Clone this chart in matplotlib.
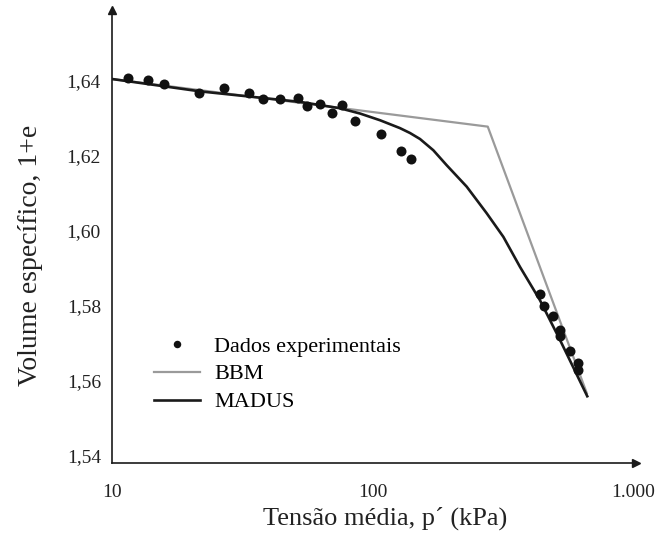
import matplotlib
matplotlib.use("Agg")
import matplotlib.pyplot as plt
from matplotlib.ticker import FixedLocator, FixedFormatter, NullLocator

plt.rcParams['font.family'] = ['Liberation Serif', 'DejaVu Serif']

# Experimental data (p' in kPa, specific volume 1+e)
exp_p = [11.5, 13.7, 15.9, 21.5, 26.9, 33.6, 38.1, 44.3, 51.6, 56.1, 63.0, 70.1,
         76.6, 85.7, 107.5, 128.3, 140.2,
         439.5, 455.3, 494.3, 524.7, 524.7, 573.1, 613.5, 613.5]
exp_v = [1.6407, 1.6400, 1.6391, 1.6366, 1.6379, 1.6367, 1.6350, 1.6349, 1.6352,
         1.6331, 1.6337, 1.6312, 1.6333, 1.6291, 1.6256, 1.6211, 1.6191,
         1.5831, 1.5797, 1.5771, 1.5735, 1.5717, 1.5677, 1.5645, 1.5627]

# BBM model
bbm_p = [10, 277, 665]
bbm_v = [1.6403, 1.6276, 1.5565]

# MADUS model
madus_p = [10, 21.8, 52.7, 75.0, 89.5, 106.9, 127.5, 139.3, 152.2, 171.2, 192.7,
           229.9, 274.4, 318.0, 368.3, 439.5, 524.7, 667.6]
madus_v = [1.6403, 1.6370, 1.6342, 1.6325, 1.6311, 1.6293, 1.6272, 1.6259, 1.6243,
           1.6213, 1.6173, 1.6116, 1.6045, 1.5982, 1.5902, 1.5813, 1.5707, 1.5557]

x_ticks = [10, 100, 1000]
x_tick_labels = ['10', '100', '1.000']
y_ticks = [1.54, 1.56, 1.58, 1.60, 1.62, 1.64]
y_tick_labels = ['1,54', '1,56', '1,58', '1,60', '1,62', '1,64']

fig = plt.figure(figsize=(6.63, 5.38), dpi=100)
ax = fig.add_axes([112/663, 75/538, (636-112)/663, (463-10)/538])

ax.plot(bbm_p, bbm_v, color='#9a9a9a', lw=1.6, label='BBM', zorder=2)
ax.plot(madus_p, madus_v, color='#1a1a1a', lw=1.9, label='MADUS', zorder=3,
        solid_joinstyle='round')
ax.plot(exp_p, exp_v, 'o', color='#111111', ms=7.2, mec='none',
        label='Dados experimentais', zorder=4)

ax.set_xscale('log')
ax.set_xlim(10, 1027)
ax.set_ylim(1.5379, 1.6587)

ax.xaxis.set_major_locator(FixedLocator(x_ticks))
ax.xaxis.set_major_formatter(FixedFormatter(x_tick_labels))
ax.xaxis.set_minor_locator(NullLocator())
ax.yaxis.set_major_locator(FixedLocator(y_ticks))
ax.yaxis.set_major_formatter(FixedFormatter(y_tick_labels))

ax.tick_params(axis='both', length=0, labelsize=14, colors='#222222')
ax.tick_params(axis='x', pad=15)
ax.tick_params(axis='y', pad=8)

for s in ['top', 'right']:
    ax.spines[s].set_visible(False)
for s in ['left', 'bottom']:
    ax.spines[s].set_linewidth(1.2)
    ax.spines[s].set_color('#1a1a1a')

# arrow heads
ax.plot(1, 0, marker='>', color='#1a1a1a', ms=6, transform=ax.transAxes, clip_on=False)
ax.plot(0, 1, marker='^', color='#1a1a1a', ms=6, transform=ax.transAxes, clip_on=False)

ax.set_xlabel('Tensão média, p´ (kPa)', fontsize=19, color='#222222')
ax.set_ylabel('Volume específico, 1+e', fontsize=20, color='#222222')
ax.xaxis.set_label_coords((385.5 - 112) / 524, (463 - 507) / 453)
ax.yaxis.set_label_coords((43 - 112) / 524, (463 - 255) / 453)

handles, labels = ax.get_legend_handles_labels()
order = [2, 0, 1]
leg = ax.legend([handles[i] for i in order], [labels[i] for i in order],
                loc='upper left', bbox_to_anchor=(154/663, 1 - 336/538),
                bbox_transform=fig.transFigure, frameon=False, fontsize=16,
                handlelength=2.07, handletextpad=0.63, labelspacing=0.33,
                borderpad=0, borderaxespad=0, markerscale=0.75)

fig.savefig('out.png', dpi=100)
